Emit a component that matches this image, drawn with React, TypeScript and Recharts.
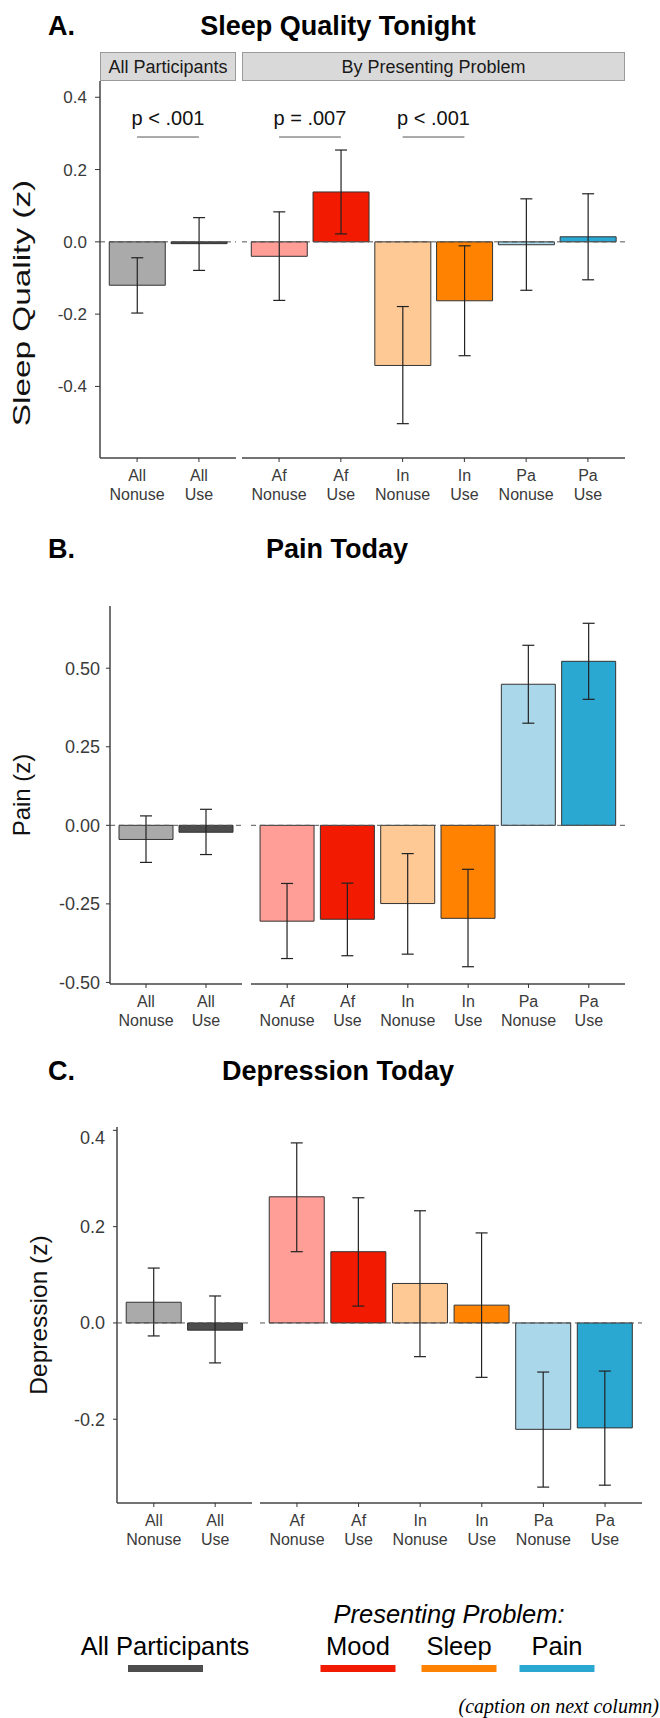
import React from 'react';
import { BarChart, Bar, XAxis, YAxis, Cell, ErrorBar, ReferenceLine } from 'recharts';

// ---------- categories ----------
const allCategories = ['All Nonuse', 'All Use'];
const problemCategories = ['Af Nonuse', 'Af Use', 'In Nonuse', 'In Use', 'Pa Nonuse', 'Pa Use'];
const allColors = ['#AAAAAA', '#4D4D4D'];
const problemColors = ['#FF9D97', '#F21A00', '#FFC996', '#FF8200', '#ABD7EA', '#2BA8D2'];

// ---------- A. Sleep quality ----------
const sleepAll = [-0.12, -0.005];
const sleepAllLow = [-0.197, -0.079];
const sleepAllHigh = [-0.044, 0.067];
const sleepProb = [-0.04, 0.138, -0.342, -0.163, -0.008, 0.014];
const sleepProbLow = [-0.162, 0.022, -0.503, -0.315, -0.134, -0.105];
const sleepProbHigh = [0.083, 0.254, -0.179, -0.011, 0.119, 0.133];
const sleepTicks = [-0.4, -0.2, 0, 0.2, 0.4];
const sleepDomain: [number, number] = [-0.598, 0.445];
const sleepPAll = [{ from: 'All Nonuse', to: 'All Use', y: 0.29, label: 'p < .001' }];
const sleepPProb = [
  { from: 'Af Nonuse', to: 'Af Use', y: 0.29, label: 'p = .007' },
  { from: 'In Nonuse', to: 'In Use', y: 0.29, label: 'p < .001' },
];

// ---------- B. Pain ----------
const painAll = [-0.045, -0.022];
const painAllLow = [-0.118, -0.093];
const painAllHigh = [0.03, 0.051];
const painProb = [-0.305, -0.299, -0.249, -0.296, 0.449, 0.522];
const painProbLow = [-0.424, -0.415, -0.41, -0.45, 0.325, 0.401];
const painProbHigh = [-0.185, -0.184, -0.09, -0.14, 0.573, 0.643];
const painTicks = [-0.5, -0.25, 0, 0.25, 0.5];
const painDomain: [number, number] = [-0.505, 0.698];

// ---------- C. Depression ----------
const depAll = [0.043, -0.015];
const depAllLow = [-0.027, -0.083];
const depAllHigh = [0.114, 0.056];
const depProb = [0.262, 0.148, 0.082, 0.037, -0.221, -0.218];
const depProbLow = [0.148, 0.035, -0.07, -0.113, -0.341, -0.337];
const depProbHigh = [0.374, 0.26, 0.233, 0.187, -0.102, -0.1];
const depTicks = [-0.2, 0, 0.2, 0.4];
const depDomain: [number, number] = [-0.374, 0.407];

// ---------- legend ----------
const legendProblems = ['Mood', 'Sleep', 'Pain'];
const legendProblemColors = ['#F21A00', '#FF8200', '#2BA8D2'];
const legendAllLabel = 'All Participants';
const legendAllColor = '#4D4D4D';

const FONT = '"Liberation Sans", Arial, Helvetica, sans-serif';

function build(cats: string[], vals: number[], low: number[], high: number[], colors: string[]) {
  return cats.map((c, i) => ({
    name: c,
    value: vals[i],
    err: [vals[i] - low[i], high[i] - vals[i]],
    color: colors[i],
  }));
}

const TwoLineTick = (props: any) => {
  const { x, y, payload } = props;
  const parts = String(payload.value).split(' ');
  return (
    <text x={x} y={y} textAnchor="middle" fontSize={16} fill="#3a3a3a" fontFamily={FONT}>
      <tspan x={x} dy={17}>{parts[0]}</tspan>
      <tspan x={x} dy={19}>{parts[1]}</tspan>
    </text>
  );
};

type FacetProps = {
  left: number;
  top: number;
  width: number;
  plotHeight: number;
  yWidth: number;
  showY: boolean;
  data: any[];
  domain: [number, number];
  ticks: number[];
  digits: number;
  tickSize: number;
  tickMargin: number;
  tickFont: number;
  notes?: { from: string; to: string; y: number; label: string }[];
};

function Facet(p: FacetProps) {
  const plotWidth = p.showY ? p.width - p.yWidth : p.width;
  const pad = (plotWidth * 0.1) / (p.data.length + 0.2);
  return (
    <div style={{ position: 'absolute', left: p.left, top: p.top }}>
      <BarChart
        width={p.width}
        height={p.plotHeight + 50}
        data={p.data}
        margin={{ top: 0, right: 0, bottom: 0, left: 0 }}
        barCategoryGap="5%"
      >
        <XAxis
          dataKey="name"
          type="category"
          height={50}
          interval={0}
          padding={{ left: pad, right: pad }}
          tick={<TwoLineTick />}
          tickSize={4}
          tickMargin={2}
          tickLine={{ stroke: '#333', strokeWidth: 1 }}
          axisLine={{ stroke: '#444', strokeWidth: 1.5 }}
        />
        <YAxis
          type="number"
          domain={p.domain}
          ticks={p.ticks}
          allowDataOverflow
          hide={!p.showY}
          width={p.yWidth}
          tickFormatter={(v: number) => v.toFixed(p.digits)}
          tick={{ fontSize: p.tickFont, fill: '#3a3a3a', fontFamily: FONT }}
          tickSize={p.tickSize}
          tickMargin={p.tickMargin}
          tickLine={{ stroke: '#333', strokeWidth: 1 }}
          axisLine={{ stroke: '#444', strokeWidth: 1.5 }}
        />
        <Bar dataKey="value" isAnimationActive={false} stroke="#333" strokeWidth={1}>
          {p.data.map((d, i) => (
            <Cell key={i} fill={d.color} />
          ))}
          <ErrorBar dataKey="err" width={6} stroke="#222" strokeWidth={1.2} direction="y" />
        </Bar>
        <ReferenceLine y={0} stroke="#555" strokeDasharray="5 4" strokeWidth={1} />
        {(p.notes || []).map((n, i) => (
          <ReferenceLine
            key={'n' + i}
            segment={[
              { x: n.from, y: n.y },
              { x: n.to, y: n.y },
            ]}
            stroke="#555"
            strokeWidth={1}
            label={{ value: n.label, position: 'top', offset: 12, fontSize: 20, fill: '#111', fontFamily: FONT }}
          />
        ))}
      </BarChart>
    </div>
  );
}

export default function App() {
  const sleepAllData = build(allCategories, sleepAll, sleepAllLow, sleepAllHigh, allColors);
  const sleepProbData = build(problemCategories, sleepProb, sleepProbLow, sleepProbHigh, problemColors);
  const painAllData = build(allCategories, painAll, painAllLow, painAllHigh, allColors);
  const painProbData = build(problemCategories, painProb, painProbLow, painProbHigh, problemColors);
  const depAllData = build(allCategories, depAll, depAllLow, depAllHigh, allColors);
  const depProbData = build(problemCategories, depProb, depProbLow, depProbHigh, problemColors);

  const legendX = [358, 459, 557];

  return (
    <div
      style={{
        position: 'absolute',
        left: 0,
        top: 0,
        width: 660,
        height: 1718,
        background: '#fff',
        fontFamily: FONT,
        overflow: 'hidden',
      }}
    >
      <svg width={660} height={1718} style={{ position: 'absolute', left: 0, top: 0 }} fontFamily={FONT}>
        {/* Titles */}
        <text x={48} y={35} fontSize={27} fontWeight="bold" fill="#000">A.</text>
        <text x={338} y={35} fontSize={27} fontWeight="bold" fill="#000" textAnchor="middle">Sleep Quality Tonight</text>
        <text x={48} y={558} fontSize={27} fontWeight="bold" fill="#000">B.</text>
        <text x={337} y={558} fontSize={27} fontWeight="bold" fill="#000" textAnchor="middle">Pain Today</text>
        <text x={48} y={1080} fontSize={27} fontWeight="bold" fill="#000">C.</text>
        <text x={338} y={1080} fontSize={27} fontWeight="bold" fill="#000" textAnchor="middle">Depression Today</text>

        {/* Strips */}
        <rect x={100.5} y={52.5} width={135} height={28} fill="#D9D9D9" stroke="#9a9a9a" strokeWidth={1} />
        <text x={168} y={73} fontSize={18} fill="#1a1a1a" textAnchor="middle">All Participants</text>
        <rect x={242.5} y={52.5} width={382} height={28} fill="#D9D9D9" stroke="#9a9a9a" strokeWidth={1} />
        <text x={433.5} y={73} fontSize={18} fill="#1a1a1a" textAnchor="middle">By Presenting Problem</text>

        {/* Y axis titles */}
        <text transform="translate(30,303) rotate(-90) scale(1.45,1)" fontSize={23} fill="#111" textAnchor="middle">Sleep Quality (z)</text>
        <text transform="translate(30,795) rotate(-90)" fontSize={24} fill="#111" textAnchor="middle">Pain (z)</text>
        <text transform="translate(47,1315) rotate(-90)" fontSize={24.5} fill="#111" textAnchor="middle">Depression (z)</text>

        {/* Legend */}
        <text x={449} y={1623} fontSize={25.5} fontStyle="italic" fill="#000" textAnchor="middle">Presenting Problem:</text>
        <text x={165} y={1655} fontSize={25.5} fill="#000" textAnchor="middle">{legendAllLabel}</text>
        <rect x={128} y={1665} width={75} height={7} fill={legendAllColor} />
        {legendProblems.map((l, i) => (
          <g key={l}>
            <text x={legendX[i]} y={1655} fontSize={25.5} fill="#000" textAnchor="middle">{l}</text>
            <rect x={legendX[i] - 37.5} y={1665} width={75} height={7} fill={legendProblemColors[i]} />
          </g>
        ))}

        {/* Caption note */}
        <text x={659} y={1713} fontSize={20} fontStyle="italic" fill="#000" textAnchor="end" fontFamily='"Liberation Serif", "DejaVu Serif", serif'>(caption on next column)</text>
      </svg>

      {/* Panel A */}
      <Facet left={0} top={81} width={236} plotHeight={377} yWidth={100} showY data={sleepAllData}
        domain={sleepDomain} ticks={sleepTicks} digits={1} tickSize={5} tickMargin={8} tickFont={17} notes={sleepPAll} />
      <Facet left={242} top={81} width={383} plotHeight={377} yWidth={0} showY={false} data={sleepProbData}
        domain={sleepDomain} ticks={sleepTicks} digits={1} tickSize={5} tickMargin={8} tickFont={17} notes={sleepPProb} />

      {/* Panel B */}
      <Facet left={0} top={606} width={242} plotHeight={378} yWidth={110} showY data={painAllData}
        domain={painDomain} ticks={painTicks} digits={2} tickSize={4} tickMargin={6} tickFont={18} />
      <Facet left={251} top={606} width={374} plotHeight={378} yWidth={0} showY={false} data={painProbData}
        domain={painDomain} ticks={painTicks} digits={2} tickSize={4} tickMargin={6} tickFont={18} />

      {/* Panel C */}
      <Facet left={0} top={1127} width={252} plotHeight={376} yWidth={117} showY data={depAllData}
        domain={depDomain} ticks={depTicks} digits={1} tickSize={4} tickMargin={8} tickFont={18} />
      <Facet left={260} top={1127} width={382} plotHeight={376} yWidth={0} showY={false} data={depProbData}
        domain={depDomain} ticks={depTicks} digits={1} tickSize={4} tickMargin={8} tickFont={18} />
    </div>
  );
}
